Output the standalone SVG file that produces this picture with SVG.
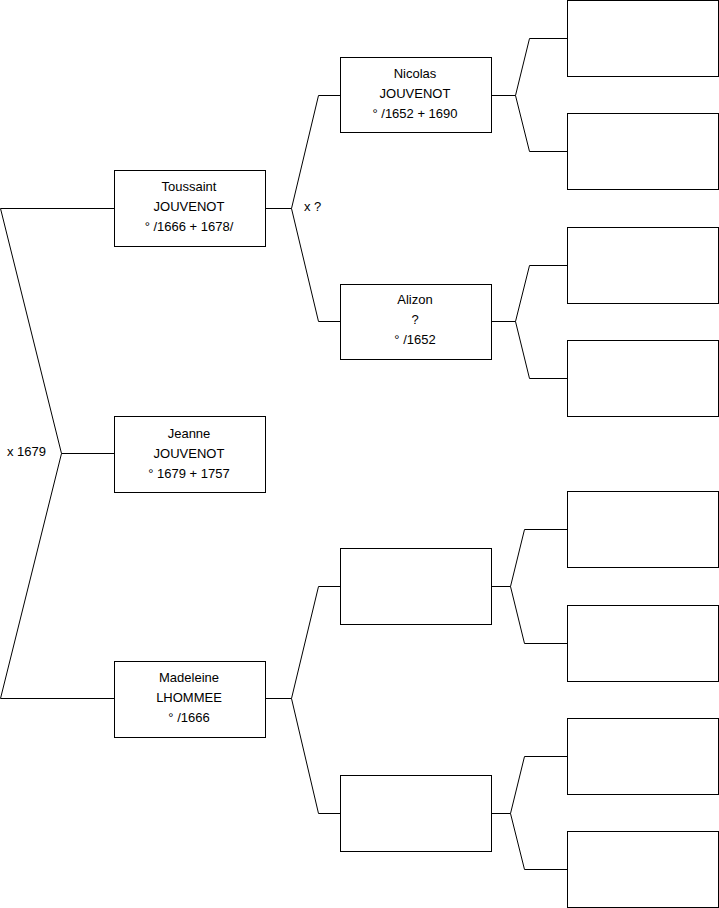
<svg xmlns="http://www.w3.org/2000/svg" width="719" height="908" viewBox="0 0 719 908">
<style>
.box{fill:#fff;stroke:#000;stroke-width:1}
.ln{fill:none;stroke:#000;stroke-width:1}
text{font-family:"Liberation Sans",Arial,sans-serif;font-size:13px;fill:#000}
.c{text-anchor:middle}
</style>
<rect width="719" height="908" fill="#fff"/>
<g id="connectors">
<path class="ln" d="M114,208.5 H0.5 L61.5,453.5 L0.5,698.5 H114"/>
<path class="ln" d="M61.5,453.5 H114"/>
<path class="ln" d="M265,208.5 H291.5 L318.5,95.5 H340 M291.5,208.5 L318.5,321.5 H340"/>
<path class="ln" d="M265,698.5 H291.5 L318.5,586.5 H340 M291.5,698.5 L318.5,813.5 H340"/>
<path class="ln" d="M491,95.5 H515.5 L529.5,38.5 H567 M515.5,95.5 L529.5,151.5 H567"/>
<path class="ln" d="M491,321.5 H515.5 L529.5,265.5 H567 M515.5,321.5 L529.5,378.5 H567"/>
<path class="ln" d="M491,586.5 H510.5 L524.5,529.5 H567 M510.5,586.5 L524.5,643.5 H567"/>
<path class="ln" d="M491,813.5 H510.5 L524.5,756.5 H567 M510.5,813.5 L524.5,869.5 H567"/>
<text x="304" y="211">x ?</text>
<text x="7" y="456">x 1679</text>
</g>
<g id="toussaint"><rect class="box" x="114.5" y="170.5" width="151" height="76"/>
<text class="c" x="189" y="191">Toussaint</text><text class="c" x="189" y="211">JOUVENOT</text><text class="c" x="189" y="231">° /1666 + 1678/</text></g>
<g id="jeanne"><rect class="box" x="114.5" y="416.5" width="151" height="76"/>
<text class="c" x="189" y="438">Jeanne</text><text class="c" x="189" y="458">JOUVENOT</text><text class="c" x="189" y="478">° 1679 + 1757</text></g>
<g id="madeleine"><rect class="box" x="114.5" y="661.5" width="151" height="76"/>
<text class="c" x="189" y="682">Madeleine</text><text class="c" x="189" y="702">LHOMMEE</text><text class="c" x="189" y="722">° /1666</text></g>
<g id="nicolas"><rect class="box" x="340.5" y="57.5" width="151" height="75"/>
<text class="c" x="415" y="78">Nicolas</text><text class="c" x="415" y="98">JOUVENOT</text><text class="c" x="415" y="118">° /1652 + 1690</text></g>
<g id="alizon"><rect class="box" x="340.5" y="284.5" width="151" height="75"/>
<text class="c" x="415" y="304">Alizon</text><text class="c" x="415" y="324">?</text><text class="c" x="415" y="344">° /1652</text></g>
<g id="g2c"><rect class="box" x="340.5" y="548.5" width="151" height="76"/></g>
<g id="g2d"><rect class="box" x="340.5" y="775.5" width="151" height="76"/></g>
<g id="g3a"><rect class="box" x="567.5" y="0.5" width="151" height="76"/></g>
<g id="g3b"><rect class="box" x="567.5" y="113.5" width="151" height="76"/></g>
<g id="g3c"><rect class="box" x="567.5" y="227.5" width="151" height="76"/></g>
<g id="g3d"><rect class="box" x="567.5" y="340.5" width="151" height="76"/></g>
<g id="g3e"><rect class="box" x="567.5" y="491.5" width="151" height="76"/></g>
<g id="g3f"><rect class="box" x="567.5" y="605.5" width="151" height="76"/></g>
<g id="g3g"><rect class="box" x="567.5" y="718.5" width="151" height="76"/></g>
<g id="g3h"><rect class="box" x="567.5" y="831.5" width="151" height="76"/></g>
</svg>
